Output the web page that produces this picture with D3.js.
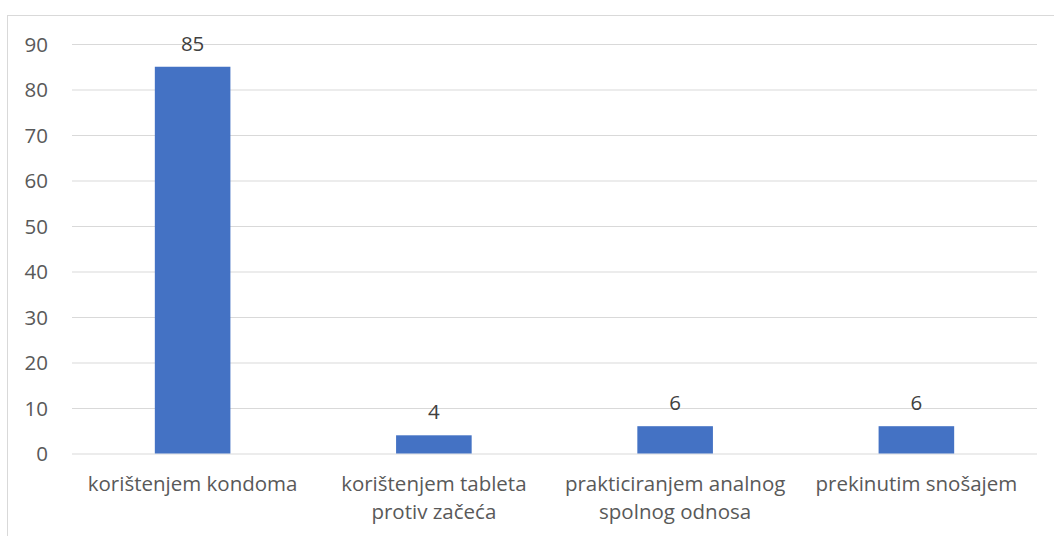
<!DOCTYPE html>
<html><head><meta charset="utf-8">
<script src="https://cdn.jsdelivr.net/npm/d3@7"></script>
<style>body{margin:0;background:#fff}svg{display:block}text{font-family:"Open Sans",sans-serif}</style>
</head><body><svg id="c" width="1054" height="536"></svg>
<script>
const categories = [["korištenjem kondoma"],["korištenjem tableta","protiv začeća"],["prakticiranjem analnog","spolnog odnosa"],["prekinutim snošajem"]];
const values = [85,4,6,6];
const yTicks = [0,10,20,30,40,50,60,70,80,90];

const svg = d3.select("#c");
const mLeft=72, mRight=1037, mTop=44, mBottom=453.5;
const fs = "20.5px";
svg.append("rect").attr("x",7.5).attr("y",15.5).attr("width",1060).attr("height",540).attr("fill","#fff").attr("stroke","#d9d9d9");
const x = d3.scaleBand().domain(d3.range(values.length)).range([mLeft,mRight]).paddingInner(0.6867).paddingOuter(0.3433);
const y = d3.scaleLinear().domain([0,90]).range([mBottom,mTop]);

const ya = svg.append("g").attr("transform",`translate(${mLeft},0)`).call(d3.axisLeft(y).tickValues(yTicks).tickSize(-(mRight-mLeft)).tickPadding(24));
ya.select(".domain").remove();
ya.selectAll("line").attr("stroke","#d9d9d9").attr("stroke-width",1);
ya.selectAll("text").attr("fill","#595959").attr("dy","0.36em").style("font-size",fs).style("font-family","'Open Sans',sans-serif");

svg.selectAll(".bar").data(values).enter().append("rect")
 .attr("x",(d,i)=>x(i)).attr("width",x.bandwidth())
 .attr("y",d=>y(d)).attr("height",d=>y(0)-y(d)).attr("fill","#4472c4");

svg.selectAll(".lbl").data(values).enter().append("text")
 .attr("x",(d,i)=>x(i)+x.bandwidth()/2).attr("y",d=>y(d)-16)
 .attr("text-anchor","middle").attr("fill","#404040").style("font-size",fs).text(d=>d);

const xa = svg.append("g");
categories.forEach((lines,i)=>{
  const t = xa.append("text").attr("x",x(i)+x.bandwidth()/2).attr("y",491).attr("text-anchor","middle").attr("fill","#595959").style("font-size",fs);
  lines.forEach((l,j)=>t.append("tspan").attr("x",x(i)+x.bandwidth()/2).attr("dy",j?27.5:0).text(l));
});
</script></body></html>
